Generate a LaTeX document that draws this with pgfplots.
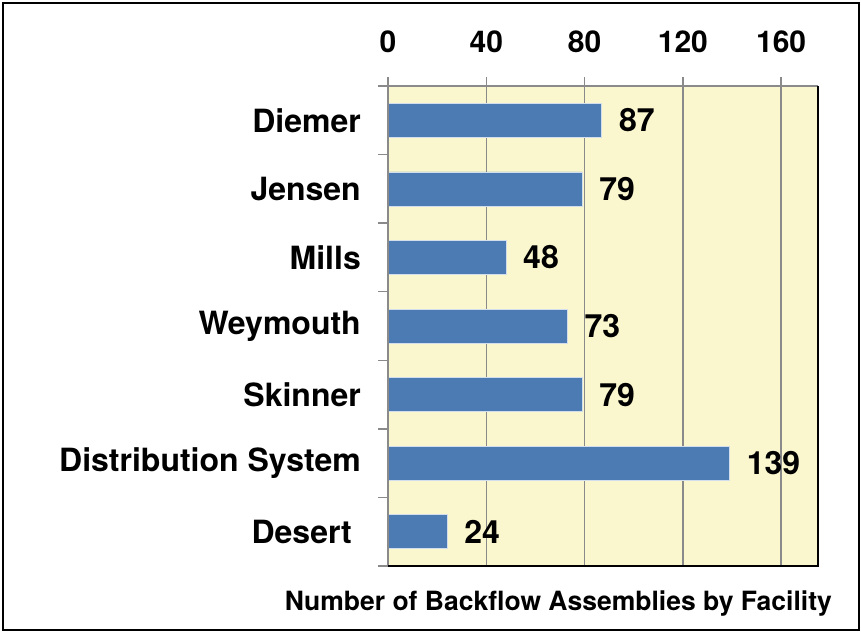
\documentclass[border=0pt]{standalone}
\usepackage{pgfplots}
\pgfplotsset{compat=1.18}
\usepackage{fontspec}
\setmainfont{TeX Gyre Heros}
\definecolor{barblue}{HTML}{4C7BB4}
\definecolor{paneyellow}{HTML}{FAF6CD}
\definecolor{gridgray}{HTML}{8A8A8A}
\begin{document}
\begin{tikzpicture}
\useasboundingbox (0pt,0pt) rectangle (861pt,632pt);
\draw[black, line width=2.2pt] (3pt,2pt) rectangle (859pt,629pt);
\begin{axis}[
  at={(388pt,66pt)}, anchor=south west,
  scale only axis, width=430pt, height=480pt,
  xbar, bar width=34pt,
  xmin=0, xmax=175,
  ymin=-0.5, ymax=6.5, y dir=reverse,
  axis background/.style={fill=paneyellow},
  axis line style={draw=none},
  xtick={0,40,80,120,160},
  xticklabel pos=top,
  xmajorgrids, major grid style={gridgray, line width=1.4pt},
  ytick={0,...,6},
  yticklabels={Diemer,Jensen,Mills,Weymouth,Skinner,Distribution System,Desert\rule{9pt}{0pt}},
  minor ytick={-0.5,0.5,...,6.5},
  tick align=outside,
  major tick length=9pt, minor tick length=10pt,
  x tick style={gridgray, line width=1.4pt},
  y tick style={draw=none},
  minor y tick style={draw=gridgray, line width=1.4pt},
  xtick pos=top, ytick pos=left,
  /pgf/number format/assume math mode=true,
  xticklabel style={font=\bfseries\fontsize{30}{32}\selectfont, inner sep=0pt, yshift=24pt},
  yticklabel style={font=\bfseries\fontsize{32}{34}\selectfont, inner sep=0pt, xshift=-18pt},
  nodes near coords,
  every node near coord/.append style={font=\bfseries\fontsize{32}{34}\selectfont, anchor=west, inner sep=0pt, xshift=17pt, text=black},
  clip=false,
]
\addplot[fill=barblue, draw=white!75!barblue, line width=0.6pt] coordinates {
  (87,0) (79,1) (48,2) (73,3) (79,4) (139,5) (24,6)
};
\draw[gridgray, line width=1.4pt] (rel axis cs:0,0) -- (rel axis cs:0,1) -- (rel axis cs:1,1);
\draw[black, line width=2.2pt] (rel axis cs:1,1) -- (rel axis cs:1,0) -- (rel axis cs:0,0);
\end{axis}
\node[anchor=base east, font=\bfseries\fontsize{26.5}{28}\selectfont, inner sep=0pt] at (832pt,22pt) {Number of Backflow Assemblies by Facility};
\end{tikzpicture}
\end{document}
